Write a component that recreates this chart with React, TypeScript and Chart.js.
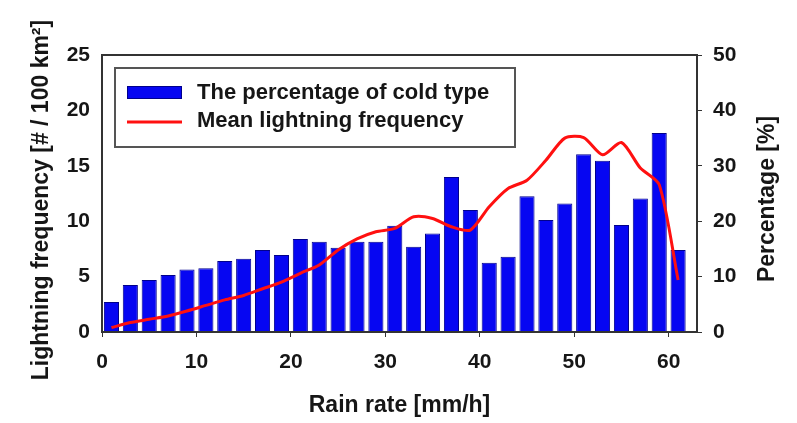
import React, { useEffect, useRef } from 'react';
import { Chart, registerables } from 'chart.js';

Chart.register(...registerables);

// ---- data ----
const rainRate = [1, 3, 5, 7, 9, 11, 13, 15, 17, 19, 21, 23, 25, 27, 29, 31, 33, 35, 37, 39, 41, 43, 45, 47, 49, 51, 53, 55, 57, 59, 61];
const coldTypePercent = [5.4, 8.5, 9.4, 10.3, 11.3, 11.5, 12.8, 13.2, 14.8, 13.9, 16.8, 16.3, 15.2, 16.3, 16.3, 19.2, 15.4, 17.8, 28.0, 22.0, 12.5, 13.6, 24.5, 20.2, 23.2, 32.1, 30.9, 19.3, 24.1, 35.9, 14.8];
const meanLightning = [0.4, 0.85, 1.15, 1.45, 1.9, 2.4, 2.9, 3.3, 3.9, 4.5, 5.3, 6.05, 7.4, 8.4, 9.05, 9.35, 10.4, 10.25, 9.5, 9.2, 11.3, 12.95, 13.7, 15.5, 17.5, 17.55, 16.0, 17.1, 14.8, 13.3, 4.7];
const xTicks = [0, 10, 20, 30, 40, 50, 60];
const leftTicks = [0, 5, 10, 15, 20, 25];
const rightTicks = [0, 10, 20, 30, 40, 50];
const barLabel = 'The percentage of cold type';
const lineLabel = 'Mean lightning frequency';
const xTitle = 'Rain rate [mm/h]';
const leftTitle = 'Lightning frequency [# / 100 km\u00B2]';
const rightTitle = 'Percentage [%]';

const FAMILY = '"Liberation Sans", Arial, Helvetica, sans-serif';
const TEXT = '#161616';

const overlayPlugin = {
  id: 'overlay',
  afterDatasetsDraw(chart: any) {
    const { ctx, chartArea: a } = chart;
    ctx.save();
    // frame
    ctx.strokeStyle = '#333333';
    ctx.lineWidth = 2;
    ctx.strokeRect(a.left, a.top, a.right - a.left, a.bottom - a.top);

    // legend
    const ds = chart.data.datasets;
    const bx = a.left + 13;
    const by = a.top + 13;
    ctx.fillStyle = '#ffffff';
    ctx.fillRect(bx, by, 400, 79);
    ctx.strokeStyle = '#555555';
    ctx.lineWidth = 2;
    ctx.strokeRect(bx, by, 400, 79);
    // bar swatch
    ctx.fillStyle = ds[0].backgroundColor;
    ctx.fillRect(a.left + 25, a.top + 31, 55, 13);
    ctx.strokeStyle = ds[0].borderColor;
    ctx.lineWidth = 1;
    ctx.strokeRect(a.left + 25.5, a.top + 31.5, 54, 12);
    // line swatch
    ctx.strokeStyle = ds[1].borderColor;
    ctx.lineWidth = 3;
    ctx.beginPath();
    ctx.moveTo(a.left + 25, a.top + 67);
    ctx.lineTo(a.left + 80, a.top + 67);
    ctx.stroke();
    ctx.fillStyle = TEXT;
    ctx.font = `bold 22px ${FAMILY}`;
    ctx.textAlign = 'left';
    ctx.textBaseline = 'middle';
    ctx.fillText(ds[0].label, a.left + 95, a.top + 38);
    ctx.fillText(ds[1].label, a.left + 95, a.top + 66);

    // vertical titles (both read bottom-to-top)
    ctx.font = `bold 23px ${FAMILY}`;
    ctx.textAlign = 'center';
    ctx.save();
    ctx.translate(42, 200);
    ctx.rotate(-Math.PI / 2);
    ctx.fillText(leftTitle, 0, 0);
    ctx.restore();
    ctx.save();
    ctx.translate(768, 199);
    ctx.rotate(-Math.PI / 2);
    ctx.fillText(rightTitle, 0, 0);
    ctx.restore();
    ctx.restore();
  },
};

export default function App() {
  const ref = useRef<HTMLCanvasElement>(null);

  useEffect(() => {
    if (!ref.current) return;
    const tickFont = { family: FAMILY, size: 21, weight: 'bold' as const };
    const chart = new Chart(ref.current, {
      type: 'bar',
      data: {
        datasets: [
          {
            type: 'bar',
            label: barLabel,
            data: rainRate.map((x, i) => ({ x, y: coldTypePercent[i] })),
            backgroundColor: '#0606f2',
            borderColor: '#00008c',
            borderWidth: 1,
            barPercentage: 0.8,
            categoryPercentage: 1,
            yAxisID: 'y1',
            order: 2,
          } as any,
          {
            type: 'line',
            label: lineLabel,
            data: rainRate.map((x, i) => ({ x, y: meanLightning[i] })),
            borderColor: '#ff1010',
            backgroundColor: '#ff1010',
            borderWidth: 3,
            pointRadius: 0,
            tension: 0.25,
            yAxisID: 'y',
            order: 1,
          } as any,
        ],
      },
      options: {
        responsive: false,
        animation: false,
        layout: { padding: { top: 55, left: 0, right: 0, bottom: 0 } },
        plugins: { legend: { display: false }, tooltip: { enabled: false } },
        scales: {
          x: {
            type: 'linear',
            offset: false,
            min: 0,
            max: 63,
            afterBuildTicks: (s: any) => {
              s.ticks = xTicks.map((v) => ({ value: v }));
            },
            afterFit: (s: any) => {
              s.height = 91;
            },
            ticks: { font: tickFont, color: TEXT, padding: 13, maxRotation: 0, autoSkip: false },
            grid: { display: true, offset: false, drawOnChartArea: false, drawTicks: true, tickLength: 5, color: '#333333' },
            border: { display: false },
            title: {
              display: true,
              text: xTitle,
              color: TEXT,
              font: { family: FAMILY, size: 23, weight: 'bold' },
              padding: { top: 0, bottom: 4 },
            },
          },
          y: {
            type: 'linear',
            position: 'left',
            min: 0,
            max: 25,
            afterBuildTicks: (s: any) => {
              s.ticks = leftTicks.map((v) => ({ value: v }));
            },
            afterFit: (s: any) => {
              s.width = 102;
            },
            ticks: { font: tickFont, color: TEXT, padding: 12 },
            grid: { display: false, drawTicks: false },
            border: { display: false },
          },
          y1: {
            type: 'linear',
            position: 'right',
            min: 0,
            max: 50,
            afterBuildTicks: (s: any) => {
              s.ticks = rightTicks.map((v) => ({ value: v }));
            },
            afterFit: (s: any) => {
              s.width = 100;
            },
            ticks: { font: tickFont, color: TEXT, padding: 11 },
            grid: { display: true, drawOnChartArea: false, drawTicks: true, tickLength: 5, color: '#333333' },
            border: { display: false },
          },
        },
      } as any,
      plugins: [overlayPlugin],
    });
    return () => chart.destroy();
  }, []);

  return (
    <div style={{ position: 'fixed', left: 0, top: 0, width: 797, height: 423, background: '#ffffff' }}>
      <canvas ref={ref} width={797} height={423} style={{ width: 797, height: 423, display: 'block' }} />
    </div>
  );
}
